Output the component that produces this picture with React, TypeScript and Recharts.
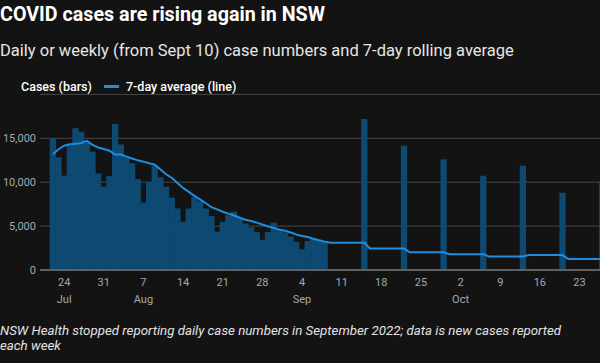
import React from "react";
import { ComposedChart, Bar, Line, XAxis, YAxis, CartesianGrid } from "recharts";

// first day on the axis, number of days shown
const START_DATE = "2022-07-22";
const DAY_COUNT = 98;

// daily reported cases, Jul 22 - Sep 8
const dailyCases = [
  15000, 12830, 10750, 14200, 16150, 15750, 14500, 13480, 11000, 9490,
  10700, 16630, 14300, 12800, 12150, 10350, 7680, 10060, 11900, 10560,
  9490, 8240, 7020, 5500, 7000, 8300, 7900, 7000, 6150, 4370,
  5500, 6250, 6650, 5900, 5300, 4860, 4330, 3450, 4330, 5400,
  4700, 4300, 3800, 3200, 2350, 3300, 3650, 3400, 3200,
];

// 7-day rolling average over the daily period
const dailyAvg = [
  13180, 13750, 14150, 14310, 14380, 14450, 14700, 14250, 13950, 13780,
  13590, 13150, 13150, 12910, 12700, 12490, 12340, 12150, 12000, 11450,
  10900, 10500, 9900, 9350, 8900, 8450, 8050, 7600, 7150, 6900,
  6640, 6420, 6200, 5950, 5720, 5580, 5400, 5180, 4950, 4780,
  4600, 4480, 4280, 4050, 3880, 3750, 3560, 3380, 3230,
];

// weekly reports
const weeklyDates = ["2022-09-15", "2022-09-22", "2022-09-29", "2022-10-06", "2022-10-13", "2022-10-20", "2022-10-27"];
const weeklyCases = [17200, 14160, 12600, 10740, 11880, 8800, 10020];
// average held for each week, starting Sep 9
const weeklyAvg = [3110, 2460, 2020, 1800, 1540, 1700, 1250];

const tickDates = [
  "2022-07-24", "2022-07-31", "2022-08-07", "2022-08-14", "2022-08-21", "2022-08-28", "2022-09-04",
  "2022-09-11", "2022-09-18", "2022-09-25", "2022-10-02", "2022-10-09", "2022-10-16", "2022-10-23",
];
const monthLabels: Record<string, string> = {
  "2022-07-24": "Jul",
  "2022-08-07": "Aug",
  "2022-09-04": "Sep",
  "2022-10-02": "Oct",
};
const yTicks = [0, 5000, 10000, 15000];

const dayList: string[] = [];
{
  const t0 = Date.parse(START_DATE + "T00:00:00Z");
  for (let i = 0; i < DAY_COUNT; i++) {
    dayList.push(new Date(t0 + i * 86400000).toISOString().slice(0, 10));
  }
}

const data = dayList.map((date, i) => {
  const w = weeklyDates.indexOf(date);
  return {
    date,
    cases: i < dailyCases.length ? dailyCases[i] : w >= 0 ? weeklyCases[w] : null,
    avg: i < dailyAvg.length ? dailyAvg[i] : weeklyAvg[Math.floor((i - dailyAvg.length) / 7)],
  };
});

const TICK_COLOR = "#a4a8ae";
const BAR_COLOR = "#0e4971";

function DayTick(props: any) {
  const { x, y, payload } = props;
  const day = String(Number(payload.value.slice(8, 10)));
  const month = monthLabels[payload.value];
  return (
    <g>
      <text x={x} y={y + 8} textAnchor="middle" fill={TICK_COLOR} fontSize={11} fontFamily="Roboto">
        {day}
      </text>
      {month && (
        <text x={x} y={y + 24.5} textAnchor="middle" fill={TICK_COLOR} fontSize={11} fontFamily="Roboto">
          {month}
        </text>
      )}
    </g>
  );
}

// slightly overlapping rects so neighbouring days don't leave seams
function CaseBar(props: any) {
  const { x, y, width, height } = props;
  if (!height || height <= 0) return null;
  return <rect x={x - 0.3} y={y} width={width + 0.6} height={height} fill={BAR_COLOR} />;
}

export default function App() {
  return (
    <div
      style={{
        position: "absolute",
        left: 0,
        top: 0,
        width: 600,
        height: 363,
        overflow: "hidden",
        background: "#131313",
        fontFamily: "Roboto, sans-serif",
        color: "#fff",
      }}
    >
      <div style={{ position: "absolute", left: 0, top: 4.5, fontSize: 19.7, lineHeight: "20px", fontWeight: 700, whiteSpace: "nowrap" }}>
        COVID cases are rising again in NSW
      </div>
      <div style={{ position: "absolute", left: 0, top: 43, fontSize: 16.5, lineHeight: "16.5px", color: "#e6e6e6", whiteSpace: "nowrap" }}>
        Daily or weekly (from Sept 10) case numbers and 7-day rolling average
      </div>

      <div style={{ position: "absolute", left: 21, top: 80.5, fontSize: 12.5, lineHeight: "12.5px", fontWeight: 500, whiteSpace: "nowrap" }}>
        Cases (bars)
      </div>
      <div style={{ position: "absolute", left: 104, top: 85, width: 15, height: 2.5, background: "#1d8fe1" }} />
      <div style={{ position: "absolute", left: 126, top: 80.5, fontSize: 12.5, lineHeight: "12.5px", fontWeight: 500, whiteSpace: "nowrap" }}>
        7-day average (line)
      </div>

      <div style={{ position: "absolute", left: 0, top: 0 }}>
        <ComposedChart
          width={605}
          height={310}
          data={data}
          margin={{ top: 94.4, right: 0, bottom: 0, left: 0 }}
          barCategoryGap={0}
          barGap={0}
        >
          <CartesianGrid vertical={false} stroke="#474747" strokeWidth={1} />
          <XAxis
            dataKey="date"
            ticks={tickDates}
            interval={0}
            tick={<DayTick />}
            tickLine={false}
            axisLine={{ stroke: "#707070", strokeWidth: 1.5 }}
            padding={{ left: 10, right: 0 }}
            height={40}
          />
          <YAxis
            type="number"
            domain={[0, 20000]}
            ticks={yTicks}
            tickFormatter={(v: number) => v.toLocaleString("en-US")}
            axisLine={false}
            tickLine={false}
            tickSize={0}
            tickMargin={4}
            width={40}
            tick={{ fill: TICK_COLOR, fontSize: 11, fontFamily: "Roboto" }}
          />
          <Bar dataKey="cases" fill={BAR_COLOR} barSize={5.66} shape={<CaseBar />} isAnimationActive={false} />
          <Line
            type="linear"
            dataKey="avg"
            stroke="#1d8fe1"
            strokeWidth={2}
            dot={false}
            activeDot={false}
            isAnimationActive={false}
          />
        </ComposedChart>
      </div>

      <div style={{ position: "absolute", left: 0, top: 324.3, fontSize: 13.3, lineHeight: "14.5px", fontStyle: "italic", color: "#e2e2e2", whiteSpace: "nowrap" }}>
        NSW Health stopped reporting daily case numbers in September 2022; data is new cases reported
        <br />
        each week
      </div>
    </div>
  );
}
